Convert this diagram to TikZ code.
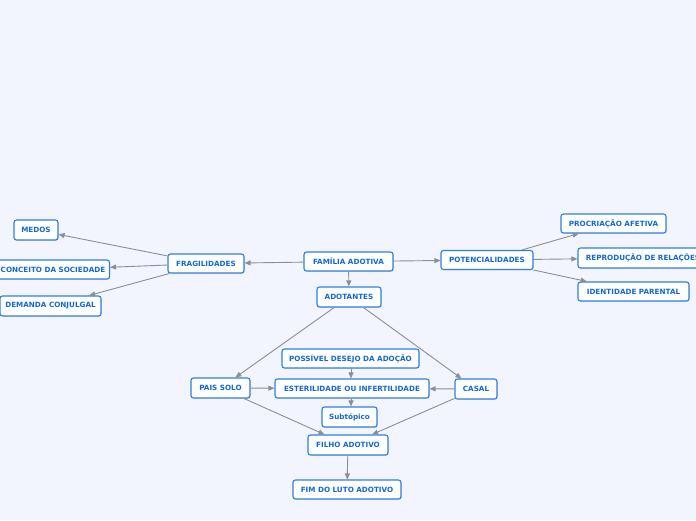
\documentclass[tikz,border=0pt]{standalone}
\usepackage{fontspec}
\setmainfont{DejaVu Sans}
\usetikzlibrary{arrows.meta,shadows}
\definecolor{bgc}{HTML}{F2F5FD}
\definecolor{bordc}{HTML}{2F7FE0}
\definecolor{txtc}{HTML}{1468D6}
\definecolor{linec}{HTML}{8A8E96}
\tikzset{
  topic/.style={draw=bordc, line width=1.1pt, fill=white, rounded corners=2.5pt,
    text=txtc, font=\fontsize{7.2}{8}\selectfont\bfseries, inner sep=0pt,
    minimum height=19pt, drop shadow={opacity=0.18, shadow xshift=0.8pt, shadow yshift=-0.8pt}},
  conn/.style={draw=linec, line width=0.9pt, -{Triangle[length=6pt,width=5pt]}},
}
\begin{document}
\begin{tikzpicture}[x=1pt,y=-1pt]
\fill[bgc] (0,0) rectangle (696,520);
\useasboundingbox (0,0) rectangle (696,520);
\node[topic, minimum width=89pt] (fam) at (348.5,261.5) {FAMÍLIA ADOTIVA};
\node[topic, minimum width=64pt, minimum height=20pt] (adot) at (349,297) {ADOTANTES};
\node[topic, minimum width=92pt] (pot) at (487,260) {POTENCIALIDADES};
\node[topic, minimum width=76pt] (frag) at (206,263.5) {FRAGILIDADES};
\node[topic, minimum width=44pt, minimum height=20pt] (medos) at (36,230) {MEDOS};
\node[topic, minimum width=113pt] (conc) at (53,269.5) {CONCEITO DA SOCIEDADE};
\node[topic, minimum width=101pt, minimum height=20pt] (dem) at (50.5,306) {DEMANDA CONJULGAL};
\node[topic, minimum width=105pt] (proc) at (613.5,223.5) {PROCRIAÇÃO AFETIVA};
\node[topic, minimum width=130pt, minimum height=20pt] (repr) at (643,258) {REPRODUÇÃO DE RELAÇÕES};
\node[topic, minimum width=111pt] (ident) at (633.5,291.5) {IDENTIDADE PARENTAL};
\node[topic, minimum width=137pt] (poss) at (350.5,358.5) {POSSÍVEL DESEJO DA ADOÇÃO};
\node[topic, minimum width=154pt] (ester) at (352,388.5) {ESTERILIDADE OU INFERTILIDADE};
\node[topic, minimum width=59pt, minimum height=20pt] (pais) at (220.5,388) {PAIS SOLO};
\node[topic, minimum width=42pt, minimum height=20pt] (casal) at (476,389) {CASAL};
\node[topic, minimum width=55pt, minimum height=20pt] (sub) at (349.5,417) {Subtópico};
\node[topic, minimum width=80pt, minimum height=20pt] (filho) at (348,445) {FILHO ADOTIVO};
\node[topic, minimum width=108pt] (fim) at (347,489.5) {FIM DO LUTO ADOTIVO};

\draw[conn] (fam) -- (frag);
\draw[conn] (fam) -- (pot);
\draw[conn] (fam) -- (adot);
\draw[conn] (frag) -- (medos);
\draw[conn] (frag) -- (conc);
\draw[conn] (frag) -- (dem);
\draw[conn] (pot) -- (proc);
\draw[conn] (pot) -- (repr);
\draw[conn] (pot) -- (ident);
\draw[conn] (adot) -- (pais);
\draw[conn] (adot) -- (casal);
\draw[conn] (poss.south -| ester.north) ++(-1pt,0) coordinate (pa) (pa) -- (pa |- ester.north);
\draw[conn] (pais) -- (ester);
\draw[conn] (casal) -- (ester);
\draw[conn] (ester.south -| sub.north) ++(1.5pt,0) coordinate (eb) (eb) -- (eb |- sub.north);
\draw[conn] (pais) -- (filho);
\draw[conn] (casal) -- (filho);
\draw[conn] (filho) -- (fim);
\end{tikzpicture}
\end{document}
